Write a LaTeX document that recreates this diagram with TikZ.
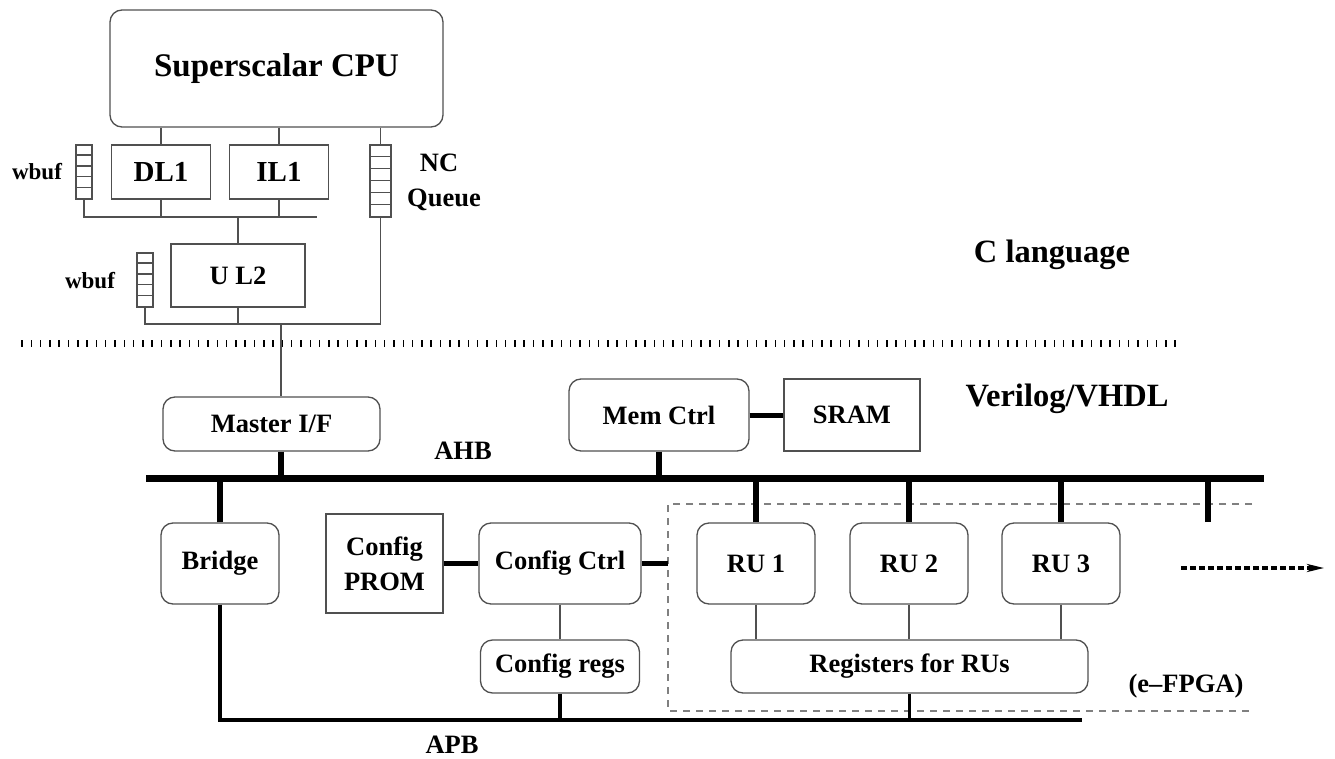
\documentclass[tikz,border=0pt]{standalone}
\usepackage{fontspec}
\setmainfont{Liberation Serif}
\usetikzlibrary{arrows.meta,calc,positioning}
\definecolor{figLine}{HTML}{505050}
\definecolor{figDash}{HTML}{808080}

\begin{document}
\begin{tikzpicture}[x=1pt,y=-1pt,>=Stealth,line join=miter]
\useasboundingbox[fill=white] (0,0) rectangle (1335,759);
\tikzset{box/.style={draw=figLine,line width=1.3pt,fill=white,inner sep=0pt,font=\bfseries\fontsize{26.5}{35}\selectfont},rbox/.style={box,rounded corners=12pt},fifo/.style={draw=figLine,line width=1.3pt,inner sep=0pt,minimum width=16pt},lbl/.style={anchor=base,inner sep=0pt,font=\bfseries\fontsize{26.5}{30}\selectfont},biglbl/.style={lbl,font=\bfseries\fontsize{32.5}{36}\selectfont},smalllbl/.style={lbl,font=\bfseries\fontsize{23}{26}\selectfont},wire/.style={draw=figLine,line width=1.3pt},bus/.style={draw=black,line width=7pt},tap/.style={draw=black,line width=6pt},link/.style={draw=black,line width=5pt},apb/.style={draw=black,line width=4pt},apbtap/.style={draw=black,line width=3.5pt},fpga/.style={draw=figDash,line width=1.3pt,dash pattern=on 7pt off 6pt},more/.style={draw=black,line width=3.5pt,dash pattern=on 6pt off 3pt,-{Stealth[length=17pt,width=8pt,inset=5pt]}}}
% processor side
\node[rbox,minimum width=333pt,minimum height=117pt,font=\bfseries\fontsize{33}{36}\selectfont] (cpu) at (276.5,68.5) {Superscalar CPU};
\node[box,minimum width=99pt,minimum height=54pt,font=\bfseries\fontsize{29}{32}\selectfont] (dl1) at (161,172) {DL1};
\node[box,minimum width=99pt,minimum height=54pt,font=\bfseries\fontsize{29}{32}\selectfont] (il1) at (279,172) {IL1};
\node[box,minimum width=134pt,minimum height=63pt] (ul2) at (238,275.5) {U L2};
\node[fifo,minimum height=54pt] (wbufa) at (84,172) {};
\foreach \k in {1,...,4} \draw[wire] ($(wbufa.north west)+(0,\k*10.8)$) -- ++(16,0);
\node[fifo,minimum height=54pt] (wbufb) at (145,280) {};
\foreach \k in {1,...,4} \draw[wire] ($(wbufb.north west)+(0,\k*10.8)$) -- ++(16,0);
\node[fifo,minimum width=21pt,minimum height=72pt] (ncq) at (380.5,181) {};
\foreach \k in {1,...,5} \draw[wire] ($(ncq.north west)+(0,\k*12)$) -- ++(21,0);
\node[smalllbl] (wbufatxt) at (37,180) {wbuf};
\node[smalllbl] (wbufbtxt) at (90,288) {wbuf};
\node[lbl] (nctxt) at (439,172) {NC};
\node[lbl] (queuetxt) at (444,207) {Queue};
\node[biglbl] (clang) at (1052,262) {C language};
\coordinate (l1bus) at (317,217);
\coordinate (l2bus) at (281,324);
\draw[wire] (cpu.south -| dl1.north) -- (dl1.north);
\draw[wire] (cpu.south -| il1.north) -- (il1.north);
\draw[wire] (cpu.south -| ncq.north) -- (ncq.north);
\draw[wire] (wbufa.south) -- (wbufa.south |- l1bus) -- (l1bus);
\draw[wire] (dl1.south) -- (dl1.south |- l1bus);
\draw[wire] (il1.south) -- (il1.south |- l1bus);
\draw[wire] (ul2.north) -- (ul2.north |- l1bus);
\draw[wire] (wbufb.south) -- (wbufb.south |- l2bus) -- (ncq.south |- l2bus) -- (ncq.south);
\draw[wire] (ul2.south) -- (ul2.south |- l2bus);
% language border
\foreach \x in {22,31.3,...,1176} \draw[black,line width=1.5pt] (\x,340) -- (\x,346.5);
% bus side
\node[rbox,minimum width=217pt,minimum height=54pt] (mif) at (271.5,424) {Master I/F};
\node[rbox,minimum width=180pt,minimum height=72pt] (memc) at (659,415) {Mem Ctrl};
\node[box,minimum width=136pt,minimum height=72pt] (sram) at (852,415) {SRAM};
\node[biglbl] (hdl) at (1067,406) {Verilog/VHDL};
\node[lbl] (ahbtxt) at (463,459) {AHB};
\draw[wire] (l2bus) -- (l2bus |- mif.north);
\coordinate (fpganw) at (668,504); \coordinate (fpgane) at (1252,504);
\coordinate (fpgasw) at (668,711); \coordinate (fpgase) at (1252,711);
\draw[fpga] (fpgane) -- (fpganw) -- (fpgasw) -- (fpgase);
\node[rbox,minimum width=118pt,minimum height=81pt] (bridge) at (220,563.5) {Bridge};
\node[box,minimum width=117pt,minimum height=99pt,align=center] (prom) at (384.5,563.5) {Config\\PROM};
\node[rbox,minimum width=162pt,minimum height=81pt] (cctrl) at (560,563.5) {Config Ctrl};
\node[rbox,minimum width=159pt,minimum height=53pt] (cregs) at (560,666.5) {Config regs};
\foreach \i/\x in {1/756,2/909,3/1061} \node[rbox,minimum width=118pt,minimum height=81pt] (ru\i) at (\x,563.5) {RU \i};
\node[rbox,minimum width=357pt,minimum height=53pt] (regs) at (909.5,666.5) {Registers for RUs};
\node[lbl] (efpga) at (1186,692) {(e--FPGA)};
\node[lbl] (apbtxt) at (452,753) {APB};
\coordinate (ahbw) at (146,478); \coordinate (ahbe) at (1264,478);
\coordinate (apbe) at (1082,720);
\coordinate (spare) at (1208,522);
\coordinate (mores) at (1181,568); \coordinate (moree) at (1324,568);
\draw[bus] (ahbw) -- (ahbe);
\draw[tap] (mif.south -| l2bus) -- (l2bus |- ahbw);
\draw[tap] (bridge.north) -- (bridge.north |- ahbw);
\draw[tap] (memc.south) -- (memc.south |- ahbw);
\foreach \i in {1,2,3} \draw[tap] (ru\i.north) -- (ru\i.north |- ahbw);
\draw[tap] (spare) -- (spare |- ahbw);
\draw[link] (memc.east) -- (sram.west);
\draw[link] (prom.east) -- (cctrl.west);
\draw[link] (cctrl.east) -- (cctrl.east -| fpganw);
\draw[wire] (cctrl.south) -- (cregs.north);
\foreach \i in {1,2,3} \draw[wire] (ru\i.south) -- (ru\i.south |- regs.north);
\draw[apb] (bridge.south) -- (bridge.south |- apbe) -- (apbe);
\draw[apbtap] (cregs.south) -- (cregs.south |- apbe);
\draw[apbtap] (regs.south) -- (regs.south |- apbe);
\draw[more] (mores) -- (moree);
\end{tikzpicture}
\end{document}
